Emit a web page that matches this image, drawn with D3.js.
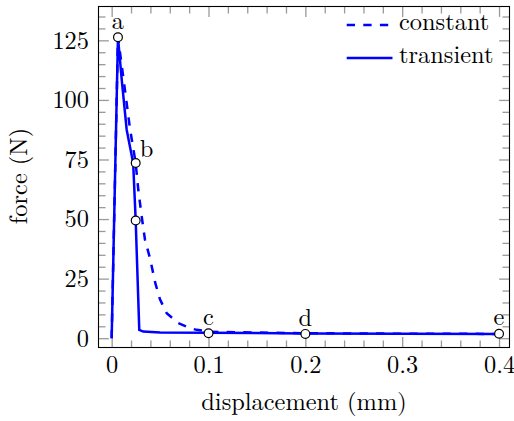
<!DOCTYPE html>
<html>
<head>
<meta charset="utf-8">
<script src="https://cdn.jsdelivr.net/npm/d3@7"></script>
<style>
  html, body { margin: 0; padding: 0; background: #fff; }
</style>
</head>
<body>
<svg id="chart" width="514" height="421"></svg>
<script>
// ---- data ----
const transientX = [0, 0.0065, 0.0105, 0.0155, 0.0222, 0.0248, 0.0285, 0.0326, 0.05, 0.1, 0.2, 0.3, 0.4];
const transientY = [0, 126.3, 108, 87.5, 73.5, 49.4, 3.5, 2.8, 2.4, 2.3, 2.0, 1.9, 1.8];

const constantX = [0, 0.0065, 0.0125, 0.0189, 0.0248, 0.0275, 0.031, 0.0344, 0.0396, 0.045, 0.0499, 0.0568, 0.0688, 0.0809, 0.0878, 0.0946, 0.1, 0.15, 0.2, 0.3, 0.4];
const constantY = [0, 126.3, 108, 88, 73.5, 62.3, 51.1, 41.3, 33.5, 23.2, 16.3, 10.5, 6.3, 4.2, 3.5, 3.2, 2.7, 2.4, 2.1, 1.9, 1.8];

const markX = [0.0065, 0.0248, 0.0248, 0.1, 0.2, 0.4];
const markY = [126.3, 73.5, 49.4, 2.1, 1.8, 1.9];
const markLabels = ["a", "b", "", "c", "d", "e"];

const xTickValues = [0, 0.1, 0.2, 0.3, 0.4];
const xTickLabels = ["0", "0.1", "0.2", "0.3", "0.4"];
const yTickValues = [0, 25, 50, 75, 100, 125];
const yTickLabels = ["0", "25", "50", "75", "100", "125"];
const xMinorTicks = d3.range(0, 0.41, 0.02).map(v => +v.toFixed(2)).filter(v => !xTickValues.includes(v));
const yMinorTicks = d3.range(0, 140, 5).filter(v => !yTickValues.includes(v));

const seriesNames = ["constant", "transient"];

// ---- layout ----
const L = 98.5, R = 509.5, T = 6.5, B = 347.5;
const svg = d3.select("#chart");
svg.append("rect").attr("width", 514).attr("height", 421).attr("fill", "#fff");

const x = d3.scaleLinear().domain([-0.0136, 0.4108]).range([L, R]);
const y = d3.scaleLinear().domain([-3.9, 139.2]).range([B, T]);

const tickColor = "#9a9a9a";
const FS = 24.4;
const FONT = "Latin Modern Roman";

function styleTicks(g) {
  g.attr("font-family", FONT);
  g.select(".domain").remove();
  g.selectAll(".tick line").attr("stroke", tickColor).attr("stroke-width", 1.3);
}

// major ticks with labels
svg.append("g").attr("transform", `translate(0,${B})`)
  .call(d3.axisBottom(x).tickValues(xTickValues).tickSize(-10.4).tickSizeOuter(0)
    .tickFormat((d, i) => xTickLabels[i]))
  .call(styleTicks)
  .call(g => g.selectAll("text").attr("dy", null).attr("y", 25.8)
    .attr("font-family", FONT).attr("font-size", FS).attr("fill", "#000"));

svg.append("g").attr("transform", `translate(${L},0)`)
  .call(d3.axisLeft(y).tickValues(yTickValues).tickSize(-10.4).tickSizeOuter(0)
    .tickFormat((d, i) => yTickLabels[i]))
  .call(styleTicks)
  .call(g => g.selectAll("text").attr("x", -9.5).attr("dy", null).attr("y", 7.8)
    .attr("font-family", FONT).attr("font-size", FS).attr("fill", "#000"));

svg.append("g").attr("transform", `translate(0,${T})`)
  .call(d3.axisTop(x).tickValues(xTickValues).tickSize(-10.4).tickSizeOuter(0).tickFormat(""))
  .call(styleTicks);
svg.append("g").attr("transform", `translate(${R},0)`)
  .call(d3.axisRight(y).tickValues(yTickValues).tickSize(-10.4).tickSizeOuter(0).tickFormat(""))
  .call(styleTicks);

// minor ticks
svg.append("g").attr("transform", `translate(0,${B})`)
  .call(d3.axisBottom(x).tickValues(xMinorTicks).tickSize(-7).tickSizeOuter(0).tickFormat(""))
  .call(styleTicks);
svg.append("g").attr("transform", `translate(0,${T})`)
  .call(d3.axisTop(x).tickValues(xMinorTicks).tickSize(-7).tickSizeOuter(0).tickFormat(""))
  .call(styleTicks);
svg.append("g").attr("transform", `translate(${L},0)`)
  .call(d3.axisLeft(y).tickValues(yMinorTicks).tickSize(-7).tickSizeOuter(0).tickFormat(""))
  .call(styleTicks);
svg.append("g").attr("transform", `translate(${R},0)`)
  .call(d3.axisRight(y).tickValues(yMinorTicks).tickSize(-7).tickSizeOuter(0).tickFormat(""))
  .call(styleTicks);

// frame
svg.append("rect").attr("x", L).attr("y", T).attr("width", R - L).attr("height", B - T)
  .attr("fill", "none").attr("stroke", "#000").attr("stroke-width", 1.1);

// lines
const line = d3.line().x(d => x(d[0])).y(d => y(d[1]));
const constantData = constantX.map((v, i) => [v, constantY[i]]);
const transientData = transientX.map((v, i) => [v, transientY[i]]);

svg.append("path").datum(constantData).attr("d", line)
  .attr("fill", "none").attr("stroke", "#0000ff").attr("stroke-width", 2.5)
  .attr("stroke-dasharray", "8.3 8.3");
svg.append("path").datum(transientData).attr("d", line)
  .attr("fill", "none").attr("stroke", "#0000ff").attr("stroke-width", 2.5);

// marks
const marks = markX.map((v, i) => ({ x: v, y: markY[i], label: markLabels[i] }));
svg.append("g").selectAll("circle").data(marks).join("circle")
  .attr("cx", d => x(d.x)).attr("cy", d => y(d.y)).attr("r", 4.4)
  .attr("fill", "#fff").attr("stroke", "#000").attr("stroke-width", 1.2);

svg.append("g").selectAll("text").data(marks.filter(d => d.label)).join("text")
  .attr("font-family", FONT)
  .attr("x", d => d.label === "b" ? x(d.x) + 4 : x(d.x))
  .attr("y", d => d.label === "b" ? y(d.y) - 6 : y(d.y) - 8.2)
  .attr("text-anchor", d => d.label === "b" ? "start" : "middle")
  .attr("font-size", FS)
  .text(d => d.label);

// axis titles
svg.append("text").attr("x", (L + R) / 2).attr("y", 410)
  .attr("font-family", FONT)
  .attr("text-anchor", "middle").attr("font-size", FS)
  .text("displacement (mm)");
svg.append("text").attr("transform", `translate(27,176) rotate(-90)`)
  .attr("font-family", FONT)
  .attr("text-anchor", "middle").attr("font-size", FS)
  .text("force (N)");

// legend
const legendY = [25, 58];
const legendDash = ["8.3 8.3", null];
seriesNames.forEach((name, i) => {
  svg.append("line").attr("x1", 346.7).attr("x2", 392.5)
    .attr("y1", legendY[i]).attr("y2", legendY[i])
    .attr("stroke", "#0000ff").attr("stroke-width", 2.5)
    .attr("stroke-dasharray", legendDash[i]);
  svg.append("text").attr("x", 399).attr("y", legendY[i] + 5.2)
    .attr("font-family", FONT)
    .attr("font-size", FS)
    .text(name);
});
</script>
</body>
</html>
